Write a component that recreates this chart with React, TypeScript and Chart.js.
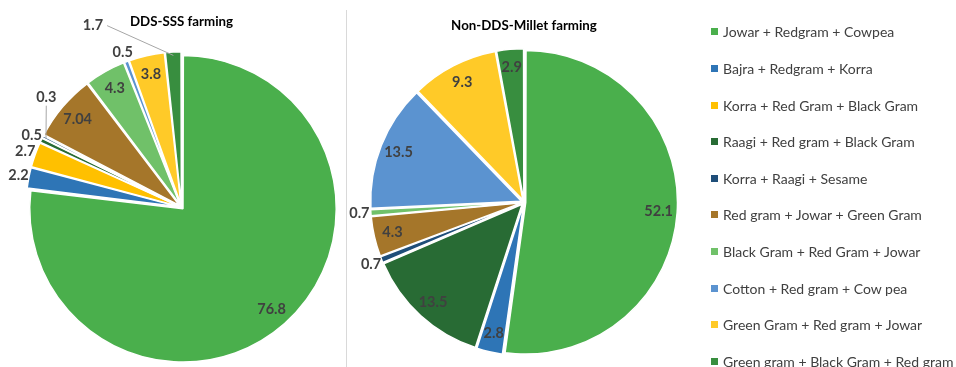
import React, { useEffect, useRef } from 'react';
import { Chart, registerables } from 'chart.js';

Chart.register(...registerables);

const categories = [
  'Jowar + Redgram + Cowpea',
  'Bajra + Redgram + Korra',
  'Korra + Red Gram + Black Gram',
  'Raagi + Red gram + Black Gram',
  'Korra + Raagi + Sesame',
  'Red gram + Jowar + Green Gram',
  'Black Gram + Red Gram + Jowar',
  'Cotton + Red gram + Cow pea',
  'Green Gram + Red gram + Jowar',
  'Green gram + Black Gram + Red gram',
];

const ddsValues = [76.8, 2.2, 2.7, 0.5, 0.3, 7.04, 4.3, 0.5, 3.8, 1.7];
const nonDdsValues = [52.1, 2.8, 0, 13.5, 0.7, 4.3, 0.7, 13.5, 9.3, 2.9];

const colors = [
  '#4aaf4c',
  '#2e75b6',
  '#ffc000',
  '#286b34',
  '#1f4e79',
  '#a5762a',
  '#70c169',
  '#5b93d0',
  '#ffca28',
  '#388e3f',
];

const titles = ['DDS-SSS farming', 'Non-DDS-Millet farming'];

const FONT = 'Lato, "Open Sans", sans-serif';

const labelPlugin = {
  id: 'pieLabels',
  afterDatasetsDraw(chart: any, _args: any, opts: any) {
    const ctx = chart.ctx as CanvasRenderingContext2D;
    const meta = chart.getDatasetMeta(0);
    const data = chart.data.datasets[0].data as number[];
    ctx.save();
    ctx.font = `bold 14.5px ${FONT}`;
    ctx.fillStyle = '#404040';
    ctx.textAlign = 'center';
    ctx.textBaseline = 'middle';
    meta.data.forEach((arc: any, i: number) => {
      const v = data[i];
      if (!v) return;
      const p = arc.getProps(['x', 'y', 'startAngle', 'endAngle', 'outerRadius'], true);
      const mid = (p.startAngle + p.endAngle) / 2;
      const r = p.outerRadius;
      const text = String(v);
      const lead = opts.leaders ? opts.leaders[i] : undefined;
      let lx: number;
      let ly: number;
      if (lead) {
        const a = ((lead.angle - 90) * Math.PI) / 180;
        lx = p.x + Math.cos(a) * lead.dist;
        ly = p.y + Math.sin(a) * lead.dist;
        const ax = p.x + Math.cos(mid) * (r + 1);
        const ay = p.y + Math.sin(mid) * (r + 1);
        const w = ctx.measureText(text).width;
        const hw = w / 2 + 4;
        const hh = 8;
        const dx = ax - lx;
        const dy = ay - ly;
        let ex: number;
        let ey: number;
        if (Math.abs(dx) / hw > Math.abs(dy) / hh) {
          ex = lx + Math.sign(dx) * hw;
          ey = ly;
        } else {
          ex = lx;
          ey = ly + Math.sign(dy) * hh;
        }
        ctx.strokeStyle = '#a6a6a6';
        ctx.lineWidth = 1;
        ctx.beginPath();
        ctx.moveTo(ax, ay);
        ctx.lineTo(ex, ey);
        ctx.stroke();
      } else {
        const d = v < opts.outsideBelow ? r + 15 : r * 0.9;
        lx = p.x + Math.cos(mid) * d;
        ly = p.y + Math.sin(mid) * d;
      }
      ctx.fillText(text, lx, ly);
    });
    ctx.restore();
  },
};

function makeConfig(
  values: number[],
  title: string,
  radius: number,
  explode: number,
  padding: any,
  titlePad: any,
  leaders: any
): any {
  const total = values.reduce((a, b) => a + b, 0);
  return {
    type: 'pie',
    data: {
      labels: categories,
      datasets: [
        {
          data: values,
          backgroundColor: colors,
          borderColor: '#ffffff',
          borderWidth: 1.5,
          offset: (c: any) => {
            const v = c.raw || 0;
            const circ = (v / total) * Math.PI * 2;
            const fix = 1 - Math.sin(Math.min(Math.PI, circ));
            return (4 * explode) / (1 + fix);
          },
        },
      ],
    },
    options: {
      responsive: false,
      animation: false,
      events: [],
      radius,
      layout: { padding },
      plugins: {
        legend: { display: false },
        tooltip: { enabled: false },
        title: {
          display: true,
          text: title,
          color: '#000000',
          font: { family: FONT, size: 13.3, weight: 'bold' },
          padding: titlePad,
        },
        pieLabels: { outsideBelow: 2.75, leaders },
      },
    },
    plugins: [labelPlugin],
  };
}

function PieCanvas(props: { config: () => any; left: number; width: number }) {
  const ref = useRef<HTMLCanvasElement | null>(null);
  useEffect(() => {
    if (!ref.current) return;
    const chart = new Chart(ref.current, props.config());
    return () => chart.destroy();
  }, []);
  return (
    <canvas
      ref={ref}
      width={props.width}
      height={367}
      style={{ position: 'absolute', left: props.left, top: 0, width: props.width, height: 367 }}
    />
  );
}

export default function App() {
  useEffect(() => {
    document.body.style.margin = '0';
  }, []);
  return (
    <div
      style={{
        position: 'absolute',
        left: 0,
        top: 0,
        width: 956,
        height: 367,
        overflow: 'hidden',
        background: '#ffffff',
        fontFamily: FONT,
      }}
    >
      <PieCanvas
        left={0}
        width={347}
        config={() =>
          makeConfig(
            ddsValues,
            titles[0],
            151,
            4.5,
            { left: 16, right: 0, top: 0, bottom: 0 },
            { top: 14, bottom: 17.4 },
            { 4: { angle: 309, dist: 174 }, 9: { angle: 334, dist: 202 } }
          )
        }
      />
      <div
        style={{
          position: 'absolute',
          left: 346,
          top: 10,
          width: 1,
          height: 357,
          background: '#d9d9d9',
        }}
      />
      <PieCanvas
        left={348}
        width={352}
        config={() =>
          makeConfig(
            nonDdsValues,
            titles[1],
            150,
            3.5,
            { left: 0, right: 0, top: 0, bottom: 0 },
            { top: 18.2, bottom: 3.2 },
            {}
          )
        }
      />
      <div style={{ position: 'absolute', left: 711, top: 13.7 }}>
        {categories.map((c, i) => (
          <div
            key={c}
            style={{
              height: 36.6,
              display: 'flex',
              alignItems: 'center',
              whiteSpace: 'nowrap',
              fontSize: 14,
              color: '#404040',
            }}
          >
            <span
              style={{ width: 7, height: 7, background: colors[i], marginRight: 5, display: 'inline-block', flexShrink: 0 }}
            />
            <span>{c}</span>
          </div>
        ))}
      </div>
    </div>
  );
}
